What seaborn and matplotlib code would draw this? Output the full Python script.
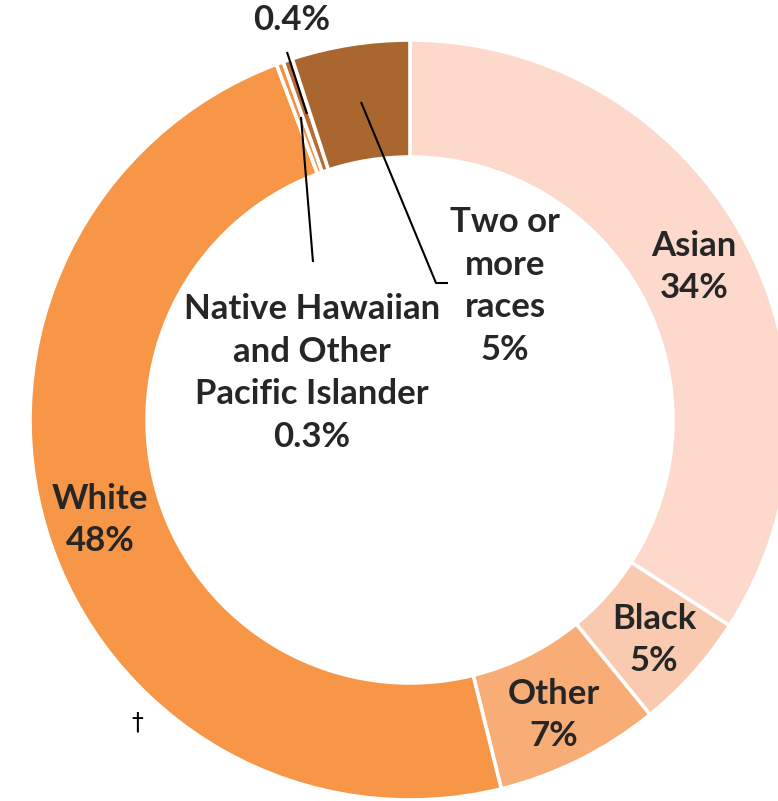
import matplotlib
matplotlib.use("Agg")
import matplotlib.pyplot as plt
import seaborn as sns

# ---- data ----
categories = ["Asian", "Black", "Other", "White",
              "Native Hawaiian and Other Pacific Islander",
              "American Indian/Alaska Native", "Two or more races"]
shares = [34, 5, 7, 48, 0.3, 0.4, 5]
label_texts = ["Asian\n34%", "Black\n5%", "Other\n7%", "White\n48%",
               "Native Hawaiian\nand Other\nPacific Islander\n0.3%",
               "0.4%", "Two or\nmore\nraces\n5%"]
colors = ["#FCD9CA", "#F9CAB0", "#F8AC76", "#F79646",
          "#F48F42", "#B86C34", "#A9672F"]

sns.set_theme(style="white")
plt.rcParams["font.family"] = ["Lato", "DejaVu Sans"]

W, H = 778, 801
fig = plt.figure(figsize=(W / 100, H / 100), dpi=100)
ax = fig.add_axes([0, 0, 1, 1])

CX, CY, R = 410, 420, 380


def px(x, y):
    return ((x - CX) / R, (CY - y) / R)


ax.pie(shares, colors=colors, startangle=90, counterclock=False,
       radius=1.0, center=(0, 0), frame=True,
       wedgeprops=dict(width=0.308, edgecolor="white", linewidth=2.6))
ax.set_xlim(-CX / R, (W - CX) / R)
ax.set_ylim(-(H - CY) / R, CY / R)
ax.set_aspect("auto")
ax.axis("off")

txt = dict(fontsize=25, fontweight="bold", color="#262626",
           ha="center", va="center", linespacing=1.42)

label_pos = [(694, 267), (654, 640), (554, 715), (100, 520),
             (312, 373), (292, 20), (505, 286)]
for t, (x, y) in zip(label_texts, label_pos):
    ax.text(*px(x, y), t, **txt)

# leader lines
lines = [[(287, 52), (307, 114)],
         [(301, 117), (313, 262)],
         [(361, 102), (436, 283), (448, 283)]]
for seg in lines:
    xs, ys = zip(*[px(x, y) for x, y in seg])
    ax.plot(xs, ys, color="black", lw=1.5, solid_capstyle="butt")

ax.text(*px(137, 722), "\u2020", fontsize=17, color="black",
        ha="center", va="center", family=["DejaVu Sans"])

fig.savefig("out.png", dpi=100)
